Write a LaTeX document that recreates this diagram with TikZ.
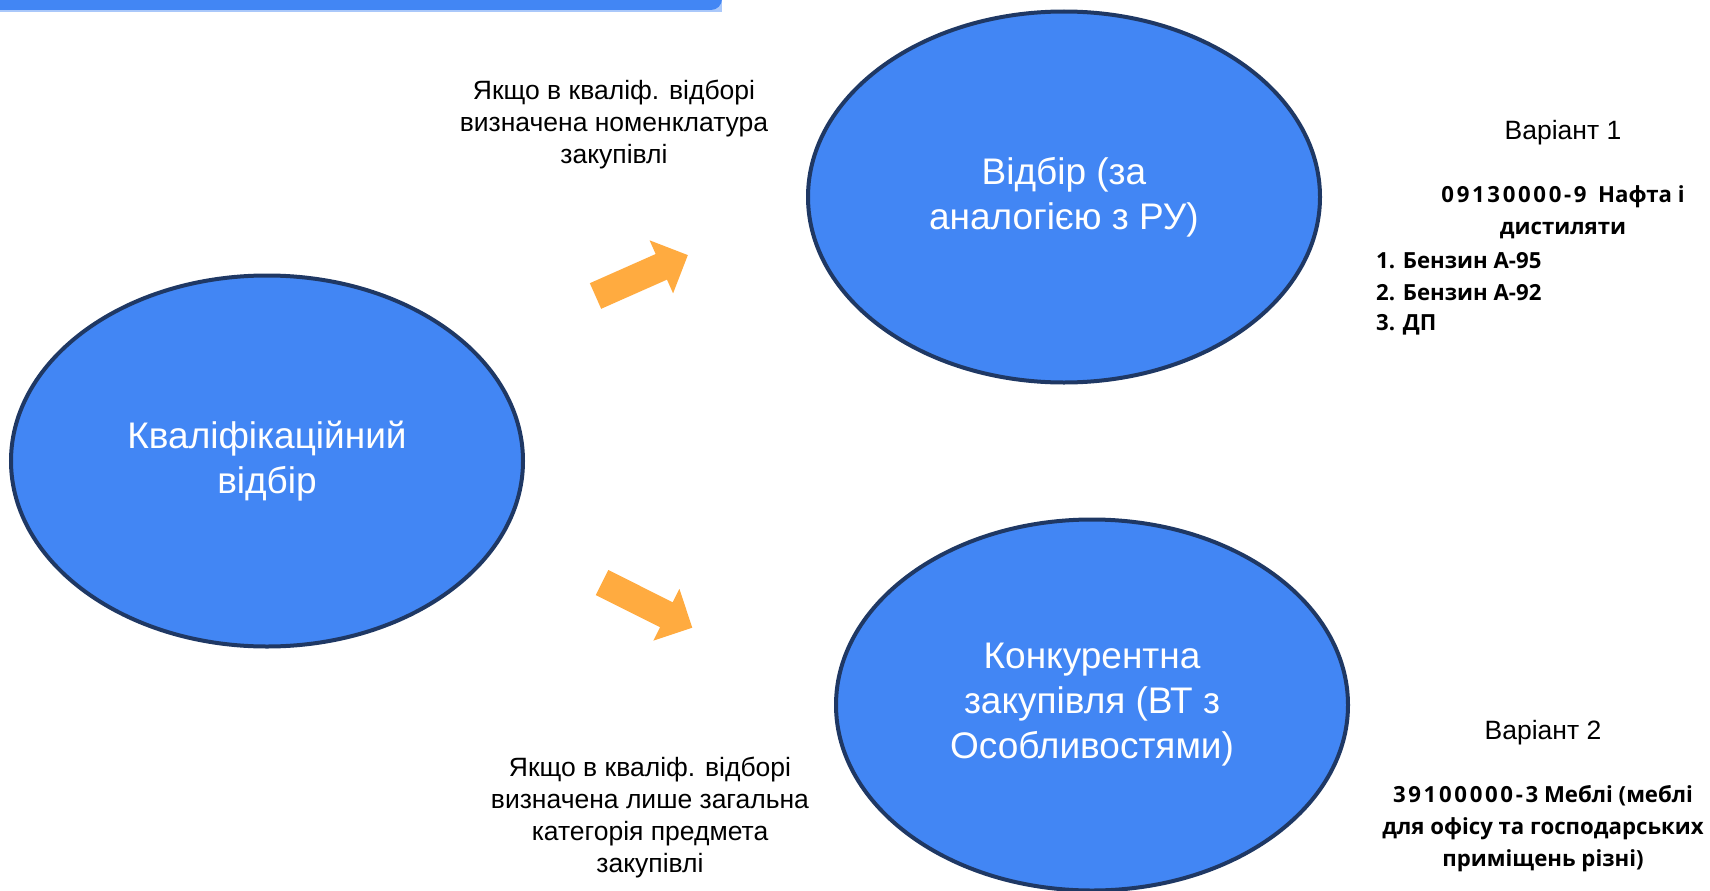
\documentclass[tikz,border=0pt]{standalone}
\usepackage{fontspec}
\setmainfont{Liberation Sans}
\newfontfamily\codefont{Open Sans}
\newcommand{\cpvcode}[1]{{\addfontfeature{LetterSpace=12}#1}}
\usepackage{tikz}
\usetikzlibrary{shapes.geometric, positioning}
\definecolor{bubbleblue}{RGB}{66,134,244}
\definecolor{bubbleline}{RGB}{31,56,100}
\definecolor{arroworange}{RGB}{255,171,64}
\tikzset{
	bubble/.style={
		ellipse, 
		minimum width=512pt, 
		minimum height=371pt, 
		text centered, 
		draw=bubbleline, 
		line width=4pt,
		fill=bubbleblue,
		text=white,
		align=center,
		font=\fontsize{37}{45}\selectfont
	},
	note/.style={
		align=center,
		inner sep=0pt,
		font=\fontsize{26.5}{32}\selectfont
	},
	code/.style={
		align=center,
		inner sep=0pt,
		font=\codefont\bfseries\fontsize{22.2}{32}\selectfont
	},
	blockarrow/.pic={
		\fill[arroworange] (0,-14) -- (72,-14) -- (72,-29) -- (101,0) -- (72,29) -- (72,14) -- (0,14) -- cycle;
	}
}

\begin{document}
\begin{tikzpicture}[x=1pt, y=-1pt]
				\useasboundingbox (0,0) rectangle (1710,891);
				% header strip
				\fill[bubbleblue!45] (0,0) rectangle (722,12);
				\fill[bubbleblue, rounded corners=11pt] (-20,-20) rectangle (722,10);
				
				\node (qual) [bubble] at (267,461) {Кваліфікаційний\\відбір};
				\node (select) [bubble] at (1064,197) {Відбір (за\\аналогією з РУ)};
				\node (compet) [bubble] at (1092,705) {Конкурентна\\закупівля (ВТ з\\Особливостями)};
				
				\pic[rotate=23.9] at (595.5,296) {blockarrow};
				\pic[rotate=-26.6] at (602,582.5) {blockarrow};
				
				\node (ifnom) [note] at (614,125) {Якщо в кваліф. відборі\\визначена номенклатура\\закупівлі};
				\node (ifcat) [note] at (650,818) {Якщо в кваліф. відборі\\визначена лише загальна\\категорія предмета\\закупівлі};
				
				% variant 1
				\node (var1) [note] at (1563,133) {Варіант 1};
				\node (code1) [code] at (1563,212) {\cpvcode{09130000-9}\ \ Нафта і\\дистиляти};
				\node (item1) [code, anchor=west] at (1376,261) {1. Бензин А-95};
				\node (item2) [code, anchor=west] at (1376,293) {2. Бензин А-92};
				\node (item3) [code, anchor=west] at (1376,325) {3. ДП};
				
				% variant 2
				\node (var2) [note] at (1543,733) {Варіант 2};
				\node (code2) [code] at (1543,829) {\cpvcode{39100000-3} Меблі (меблі\\для офісу та господарських\\приміщень різні)};
			\end{tikzpicture}
\end{document}
